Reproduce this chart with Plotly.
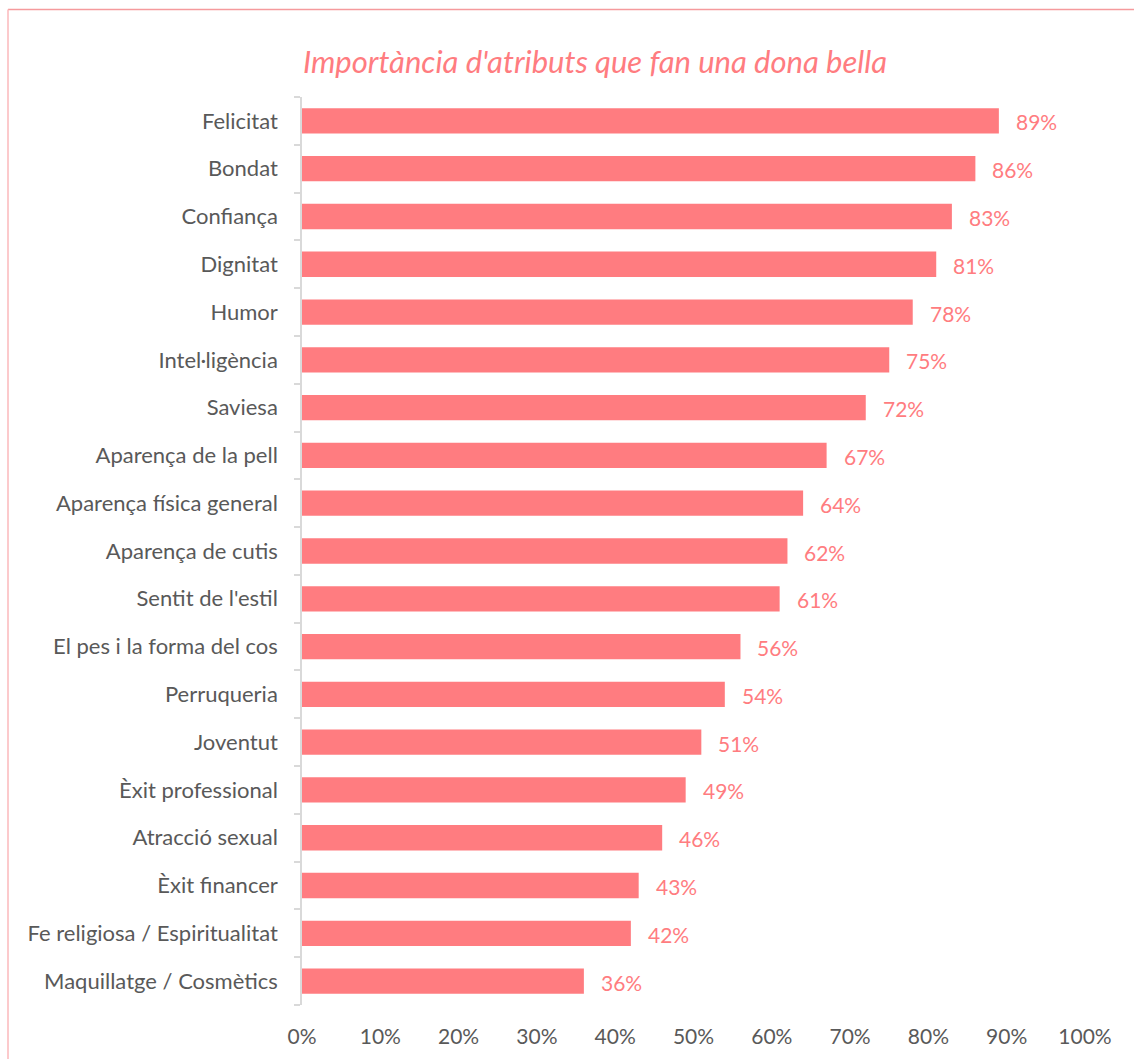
import plotly.graph_objects as go

categories = ["Felicitat", "Bondat", "Confiança", "Dignitat", "Humor", "Intel·ligència",
              "Saviesa", "Aparença de la pell", "Aparença física general", "Aparença de cutis",
              "Sentit de l'estil", "El pes i la forma del cos", "Perruqueria", "Joventut",
              "Èxit professional", "Atracció sexual", "Èxit financer",
              "Fe religiosa / Espiritualitat", "Maquillatge / Cosmètics"]
values = [89, 86, 83, 81, 78, 75, 72, 67, 64, 62, 61, 56, 54, 51, 49, 46, 43, 42, 36]
x_ticks = [0, 10, 20, 30, 40, 50, 60, 70, 80, 90, 100]
x_tick_labels = [f"{t}%" for t in x_ticks]

title = "Importància d'atributs que fan una dona bella"
pink = "#FF7C80"
gray = "#595959"
W, H = 1134, 1059
ml, mr, mt, mb = 302, 49, 97, 54

fig = go.Figure(go.Bar(
    x=values, y=categories, orientation="h",
    marker=dict(color=pink, line=dict(width=0)),
    width=0.53,
    hoverinfo="x+y",
))

for c, v in zip(categories, values):
    fig.add_annotation(x=v, y=c, text=f"{v}%", showarrow=False, xanchor="left",
                       xshift=15, yshift=-1, font=dict(family="Lato", size=21, color=pink))

pw = W - ml - mr
ph = H - mt - mb
# outer frame (top and left border lines like reference)
fig.add_shape(type="line", xref="paper", yref="paper",
              x0=(8 - ml) / pw, x1=(W + 5 - ml) / pw,
              y0=1 + (mt - 9.5) / ph, y1=1 + (mt - 9.5) / ph,
              line=dict(color="#F59A9D", width=1.5))
fig.add_shape(type="line", xref="paper", yref="paper",
              x0=(8 - ml) / pw, x1=(8 - ml) / pw,
              y0=-(mb + 5) / ph, y1=1 + (mt - 9.5) / ph,
              line=dict(color="#FBB9BB", width=1.5))

fig.update_layout(
    width=W, height=H,
    margin=dict(l=ml, r=mr, t=mt, b=mb),
    paper_bgcolor="white", plot_bgcolor="white",
    title=dict(text=title, x=595 / W, xanchor="center", y=1 - 62 / H, yanchor="middle",
               font=dict(family="Lato", size=31, color=pink, style="italic")),
    showlegend=False,
    bargap=0.47,
    xaxis=dict(range=[0, 100], tickvals=x_ticks, ticktext=x_tick_labels,
               showgrid=False, zeroline=False, showline=False, ticks="",
               ticklabelstandoff=17,
               tickfont=dict(family="Lato", size=21, color=gray)),
    yaxis=dict(categoryorder="array", categoryarray=categories[::-1],
               range=[-0.5, len(categories) - 0.5],
               showgrid=False, zeroline=False, showline=True, linecolor="#D9D9D9", linewidth=1.5,
               ticks="outside", tickson="boundaries", ticklen=6, tickcolor="#D9D9D9", tickwidth=1.5,
               ticklabelstandoff=18,
               tickfont=dict(family="Lato", size=22, color=gray)),
)

fig.write_html("out.html")
